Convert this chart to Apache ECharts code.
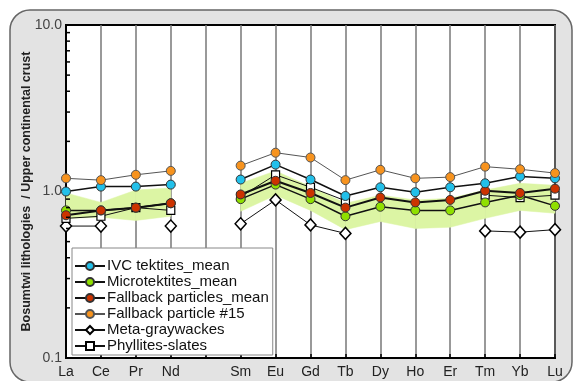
<!DOCTYPE html>
<html>
<head>
<meta charset="utf-8">
<script src="https://cdn.jsdelivr.net/npm/echarts@6/dist/echarts.min.js"></script>
<style>
  html, body { margin: 0; padding: 0; background: #fff; }
  #chart { width: 573px; height: 381px; }
</style>
</head>
<body>
<div id="chart"></div>
<script>
// REE pattern, normalised to upper continental crust ('' = Pm, no data)
const categories = ['La', 'Ce', 'Pr', 'Nd', '', 'Sm', 'Eu', 'Gd', 'Tb', 'Dy', 'Ho', 'Er', 'Tm', 'Yb', 'Lu']
const ivcTektites = [1.00, 1.07, 1.07, 1.10, null, 1.18, 1.45, 1.18, 0.94, 1.06, 0.99, 1.06, 1.12, 1.23, 1.20]
const microtektites = [0.77, 0.77, 0.80, 0.85, null, 0.90, 1.10, 0.90, 0.71, 0.81, 0.77, 0.77, 0.86, 0.95, 0.82]
const fallbackMean = [0.72, 0.77, 0.80, 0.85, null, 0.96, 1.16, 0.98, 0.80, 0.92, 0.86, 0.89, 1.01, 0.98, 1.04]
const fallback15 = [1.20, 1.17, 1.26, 1.33, null, 1.43, 1.71, 1.60, 1.17, 1.35, 1.20, 1.22, 1.41, 1.36, 1.29]
const metaGraywackes = [0.62, 0.62, null, 0.62, null, 0.64, 0.89, 0.63, 0.56, null, null, null, 0.58, 0.57, 0.59]
const phyllites = [0.69, 0.71, 0.80, 0.77, null, 0.93, 1.26, 1.06, 0.88, null, null, null, 0.95, 0.92, 0.95]
// green range band
const bandLow = [0.69, 0.70, 0.67, 0.71, null, 0.76, 0.95, 0.77, 0.59, 0.66, 0.60, 0.61, 0.69, 0.77, 0.74]
const bandHigh = [0.98, 0.86, 1.02, 1.05, null, 1.12, 1.33, 1.07, 0.85, 0.95, 0.89, 0.91, 1.02, 1.12, 1.09]
// log ticks on the y axis
const yTicks = [0.2, 0.3, 0.4, 0.5, 0.6, 0.7, 0.8, 0.9, 2, 3, 4, 5, 6, 7, 8, 9]

const chart = echarts.init(document.getElementById('chart'))

function lineSeries (name, data, opts) {
  return Object.assign({
    name: name,
    type: 'line',
    data: data,
    connectNulls: false,
    symbol: 'circle',
    symbolSize: 9,
    lineStyle: { color: '#111', width: 1.5 },
    itemStyle: { borderColor: '#333', borderWidth: 1 }
  }, opts)
}

chart.setOption({
  animation: false,
  graphic: [{
    type: 'rect',
    z: -10,
    shape: { x: 10, y: 10, width: 562, height: 372, r: 20 },
    style: { fill: '#e3e3e3', stroke: '#666', lineWidth: 1.5 }
  }],
  grid: {
    left: 66,
    right: 18,
    top: 25,
    bottom: 23,
    show: true,
    backgroundColor: '#fff',
    borderColor: '#000',
    borderWidth: 2
  },
  legend: {
    orient: 'vertical',
    left: 72,
    top: 248,
    itemGap: 0,
    itemWidth: 30,
    itemHeight: 10,
    backgroundColor: '#fff',
    borderColor: '#888',
    borderWidth: 1,
    borderRadius: 0,
    padding: [10, 4, 1, 2],
    data: ['IVC tektites_mean', 'Microtektites_mean', 'Fallback particles_mean',
      'Fallback particle #15', 'Meta-graywackes', 'Phyllites-slates'],
    textStyle: { fontFamily: 'Liberation Sans', fontSize: 15, lineHeight: 16, color: '#111', padding: [0, 0, 0, -3] }
  },
  xAxis: {
    type: 'category',
    data: categories,
    boundaryGap: false,
    axisLine: { lineStyle: { color: '#000', width: 2 } },
    axisTick: { inside: true, length: 4, lineStyle: { color: '#000', width: 1.5 } },
    axisLabel: { fontFamily: 'Liberation Sans', fontSize: 14, color: '#222', margin: 7, interval: 0 },
    splitLine: { show: true, lineStyle: { color: '#777', width: 1.5 } }
  },
  yAxis: {
    type: 'log',
    logBase: 10,
    min: 0.1,
    max: 10,
    name: 'Bosumtwi lithologies  / Upper continental crust',
    nameLocation: 'middle',
    nameGap: 33,
    nameMoveOverlap: false,
    nameTextStyle: { fontFamily: 'Liberation Sans', fontSize: 12.5, fontWeight: 'bold', color: '#222' },
    axisLine: { show: true, lineStyle: { color: '#000', width: 2 } },
    axisTick: { inside: true, length: 5, lineStyle: { color: '#000', width: 1.5 } },
    axisLabel: {
      fontFamily: 'Liberation Sans',
      fontSize: 14,
      color: '#444',
      margin: 4,
      formatter: v => Number(v).toFixed(1)
    },
    splitLine: { show: false }
  },
  series: [
    {
      name: 'minorTicks',
      type: 'custom',
      z: 10,
      silent: true,
      data: yTicks,
      renderItem: (params, api) => {
        const p = api.coord([0, yTicks[params.dataIndex]])
        return {
          type: 'line',
          shape: { x1: p[0], y1: p[1], x2: p[0] + 4, y2: p[1] },
          style: { stroke: '#000', lineWidth: 1.5 }
        }
      }
    },
    {
      name: 'band',
      type: 'custom',
      z: 1,
      silent: true,
      data: categories.map((c, i) => i),
      renderItem: (params, api) => {
        const i = params.dataIndex
        if (i + 1 >= categories.length || bandLow[i] == null || bandLow[i + 1] == null) return null
        const pts = [
          api.coord([i, bandHigh[i]]),
          api.coord([i + 1, bandHigh[i + 1]]),
          api.coord([i + 1, bandLow[i + 1]]),
          api.coord([i, bandLow[i]])
        ]
        return {
          type: 'polygon',
          shape: { points: pts },
          style: { fill: '#dcf5a4', stroke: '#dcf5a4', lineWidth: 0.5 }
        }
      }
    },
    lineSeries('Meta-graywackes', metaGraywackes, {
      z: 2,
      symbol: 'diamond',
      symbolSize: [11, 12],
      lineStyle: { color: '#111', width: 1 },
      itemStyle: { color: '#fff', borderColor: '#000', borderWidth: 1.5 }
    }),
    lineSeries('Phyllites-slates', phyllites, {
      z: 3,
      symbol: 'rect',
      symbolSize: 8,
      lineStyle: { color: '#111', width: 1 },
      itemStyle: { color: '#fff', borderColor: '#000', borderWidth: 1.2 }
    }),
    lineSeries('Microtektites_mean', microtektites, {
      z: 4,
      itemStyle: { color: '#8fe000', borderColor: '#333', borderWidth: 1 }
    }),
    lineSeries('Fallback particles_mean', fallbackMean, {
      z: 5,
      lineStyle: { color: '#111', width: 2 },
      itemStyle: { color: '#cc3300', borderColor: '#333', borderWidth: 1 }
    }),
    lineSeries('IVC tektites_mean', ivcTektites, {
      z: 6,
      lineStyle: { color: '#111', width: 1.5 },
      itemStyle: { color: '#22c0ea', borderColor: '#333', borderWidth: 1 }
    }),
    lineSeries('Fallback particle #15', fallback15, {
      z: 7,
      lineStyle: { color: '#555', width: 1 },
      itemStyle: { color: '#f7931e', borderColor: '#555', borderWidth: 1 }
    })
  ]
})
</script>
</body>
</html>
